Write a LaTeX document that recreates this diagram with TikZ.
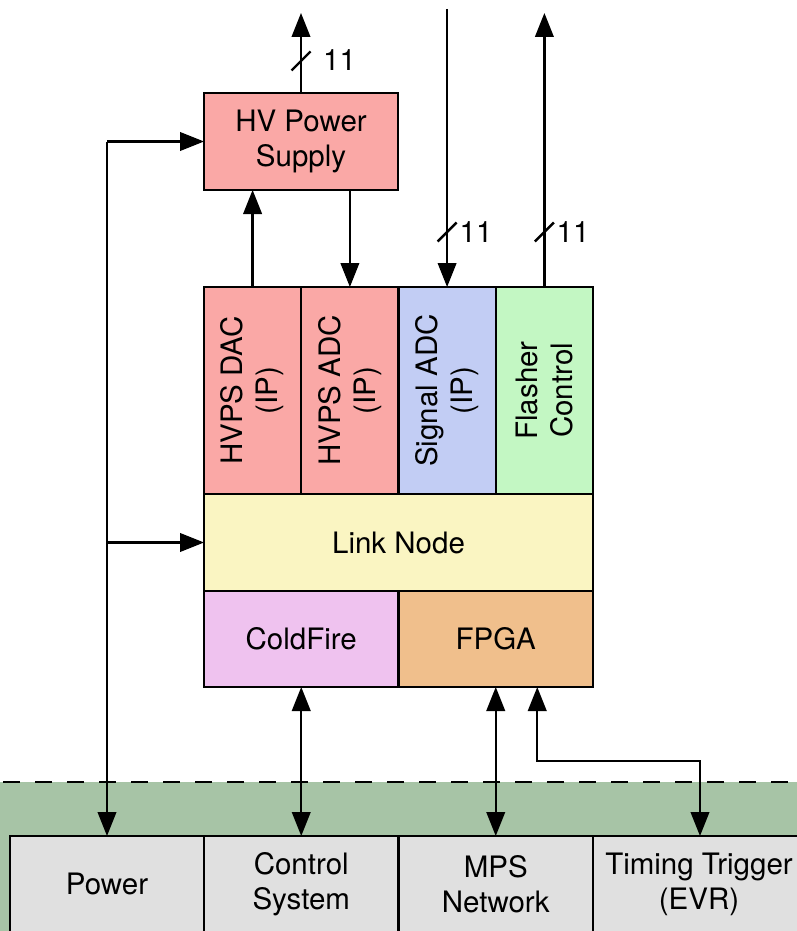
\documentclass[tikz,border=0pt]{standalone}
\usepackage{fontspec}
\setmainfont{TeX Gyre Heros}
\usetikzlibrary{arrows.meta}
\definecolor{cpink}{HTML}{FAA8A6}
\definecolor{cblue}{HTML}{C2CDF4}
\definecolor{cgreen}{HTML}{C3F7C3}
\definecolor{cyellow}{HTML}{FAF5C2}
\definecolor{cpurple}{HTML}{EFC2EF}
\definecolor{corange}{HTML}{F0BF8C}
\definecolor{cbg}{HTML}{A7C4A6}
\definecolor{cgray}{HTML}{E0E0E0}
\newcommand\dfsz{\fontsize{29.5}{35}\selectfont}
\begin{document}
\begin{tikzpicture}[x=1pt,y=-1pt,line width=2.4pt,
  blk/.style={draw=black,line width=2.4pt,inner sep=0pt,outer sep=0pt},
  txt/.style={inner sep=0pt,outer sep=0pt,font=\dfsz,align=center},
  arr/.style={-{Triangle[length=24pt,width=18.5pt]}},
  darr/.style={{Triangle[length=24pt,width=18.5pt]}-{Triangle[length=24pt,width=18.5pt]}},
  slash/.style={line width=2.4pt}]
\useasboundingbox (0,0) rectangle (797,931);
\clip (0,0) rectangle (797,931);
% background band
\fill[cbg] (0,782) rectangle (800,940);
\draw[line width=2.7pt,dash pattern=on 16.7pt off 15.3pt] (3.3,782) -- (800,782);
% HV power supply
\node[blk,fill=cpink,minimum width=194pt,minimum height=97pt] (hv) at (301,141.5) {};
\node[txt] (hvt) at (hv.center) {HV Power\\Supply};
% module columns
\node[blk,fill=cpink,minimum width=97.25pt,minimum height=207pt] (dac) at (252.6,390.5) {};
\node[blk,fill=cpink,minimum width=97.25pt,minimum height=207pt] (adc) at (349.9,390.5) {};
\node[blk,fill=cblue,minimum width=97.25pt,minimum height=207pt] (sig) at (447.1,390.5) {};
\node[blk,fill=cgreen,minimum width=97.25pt,minimum height=207pt] (fl) at (544.4,390.5) {};
\node[txt,rotate=90] (dact) at (dac.center) {HVPS DAC\\(IP)};
\node[txt,rotate=90] (adct) at (adc.center) {HVPS ADC\\(IP)};
\node[txt,rotate=90] (sigt) at (sig.center) {Signal ADC\\(IP)};
\node[txt,rotate=90] (flt) at (fl.center) {Flasher\\Control};
\node[blk,fill=cyellow,minimum width=389pt,minimum height=97pt] (link) at (398.5,542.5) {};
\node[txt] (linkt) at (link.center) {Link Node};
\node[blk,fill=cpurple,minimum width=194.5pt,minimum height=96pt] (cf) at (301.25,639) {};
\node[blk,fill=corange,minimum width=194.5pt,minimum height=96pt] (fpga) at (495.75,639) {};
\node[txt] (cft) at (cf.center) {ColdFire};
\node[txt] (fpgat) at (fpga.center) {FPGA};
% bottom boxes
\node[blk,fill=cgray,minimum width=194pt,minimum height=104pt] (pw) at (107,888) {};
\node[blk,fill=cgray,minimum width=194.5pt,minimum height=104pt] (cs) at (301.25,888) {};
\node[blk,fill=cgray,minimum width=194.5pt,minimum height=104pt] (mps) at (495.75,888) {};
\node[blk,fill=cgray,minimum width=214pt,minimum height=104pt] (evr) at (700,888) {};
\node[txt] (pwt) at (107,884) {Power};
\node[txt] (cst) at (301.25,884) {Control\\System};
\node[txt] (mpst) at (495.75,884) {MPS\\Network};
\node[txt] (evrt) at (699,884) {Timing Trigger\\(EVR)};
% top connectors
\coordinate (hvout) at (hv.north |- 0,13);
\draw[arr] (hv.north) -- (hvout);
\coordinate (sigin) at (sig.north |- 0,9);
\draw[arr] (sigin) -- (sig.north);
\coordinate (flout) at (fl.north |- 0,13);
\draw[arr] (fl.north) -- (flout);
\draw[arr] (dac.north) -- (dac.north |- hv.south);
\draw[arr] (adc.north |- hv.south) -- (adc.north);
% bus slashes and labels
\coordinate (s1) at (hv.north |- 0,61);
\coordinate (s2) at (sig.north |- 0,232);
\coordinate (s3) at (fl.north |- 0,232);
\draw[slash] ([shift={(-9.5,9.5)}]s1) -- ([shift={(9.5,-9.5)}]s1);
\draw[slash] ([shift={(-9.5,9.5)}]s2) -- ([shift={(9.5,-9.5)}]s2);
\draw[slash] ([shift={(-9.5,9.5)}]s3) -- ([shift={(9.5,-9.5)}]s3);
\node[txt] (l1) at (339.5,60) {11};
\node[txt] (l2) at (476,232) {11};
\node[txt] (l3) at (573,232) {11};
% power feed
\coordinate (pj) at (pw.north |- hv.west);
\draw[arr] (pj) -- (hv.west);
\draw[arr] (pj |- link.west) -- (link.west);
\draw[arr] (pj) -- (pw.north);
% bottom connectors
\draw[darr] (cf.south -| cs.north) -- (cs.north);
\draw[darr] (fpga.south -| mps.north) -- (mps.north);
\coordinate (ev) at ([xshift=41.5pt]fpga.south);
\draw[darr] (ev) -- ++(0,74) -| (evr.north);
\end{tikzpicture}
\end{document}
